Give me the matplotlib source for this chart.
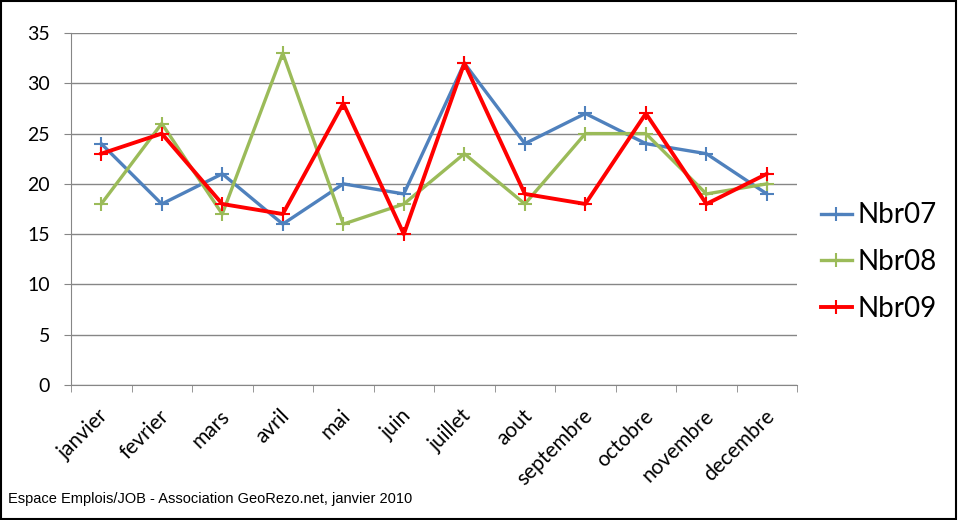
import matplotlib.pyplot as plt
import matplotlib.transforms as mtransforms
import numpy as np

# data
months = ['janvier', 'fevrier', 'mars', 'avril', 'mai', 'juin', 'juillet',
          'aout', 'septembre', 'octobre', 'novembre', 'decembre']
nbr07 = [24, 18, 21, 16, 20, 19, 32, 24, 27, 24, 23, 19]
nbr08 = [18, 26, 17, 33, 16, 18, 23, 18, 25, 25, 19, 20]
nbr09 = [23, 25, 18, 17, 28, 15, 32, 19, 18, 27, 18, 21]

plt.rcParams['font.family'] = ['Lato', 'DejaVu Sans']

fig = plt.figure(figsize=(9.58, 5.20), dpi=100)
ax = fig.add_axes([0.0741, 0.2596, 0.7580, 0.6769])

x = np.arange(len(months))
ax.plot(x, nbr07, color='#4F81BD', lw=2.4, marker='+', ms=10, mew=1.5, label='Nbr07')
ax.plot(x, nbr08, color='#9BBB59', lw=2.4, marker='+', ms=10, mew=1.5, label='Nbr08')
ax.plot(x, nbr09, color='#FF0000', lw=2.8, marker='+', ms=10, mew=1.5, label='Nbr09')

ax.set_xlim(-0.5, len(months) - 0.5)
ax.set_ylim(0, 35)
ax.set_yticks(range(0, 36, 5))
ax.yaxis.grid(True, color='#868686', lw=1)
ax.set_axisbelow(True)

ax.set_xticks(x)
ax.set_xticklabels(months, rotation=45, ha='right', va='top', rotation_mode='anchor', fontsize=15)
ax.set_xticks(np.arange(-0.5, len(months)), minor=True)
ax.tick_params(axis='x', which='major', length=0, pad=15)
ax.tick_params(axis='x', which='minor', length=5, color='#868686', direction='out')
ax.tick_params(axis='y', length=5, color='#868686', labelsize=14, pad=10)

# nudge month labels a little, like the original
shift = mtransforms.ScaledTranslation(-3 / 100, 0, fig.dpi_scale_trans)
for lab in ax.get_xticklabels():
    lab.set_transform(lab.get_transform() + shift)

for s in ['top', 'right']:
    ax.spines[s].set_visible(False)
for s in ['left', 'bottom']:
    ax.spines[s].set_color('#868686')

ax.legend(loc='center left', bbox_to_anchor=(0.857, 0.496), bbox_transform=fig.transFigure,
          frameon=False, fontsize=20, handlelength=1.1, handletextpad=0.2,
          labelspacing=0.75, borderpad=0, borderaxespad=0)

fig.text(0.008, 0.033, 'Espace Emplois/JOB - Association GeoRezo.net, janvier 2010',
         fontsize=10.5, va='baseline', family=['Liberation Sans Narrow', 'Liberation Sans'])

# black frame around the picture
fig.patches.append(plt.Rectangle((0.001, 0.002), 0.997, 0.996, transform=fig.transFigure,
                                 fill=False, ec='black', lw=1.5))

fig.savefig('out.png', dpi=100)
